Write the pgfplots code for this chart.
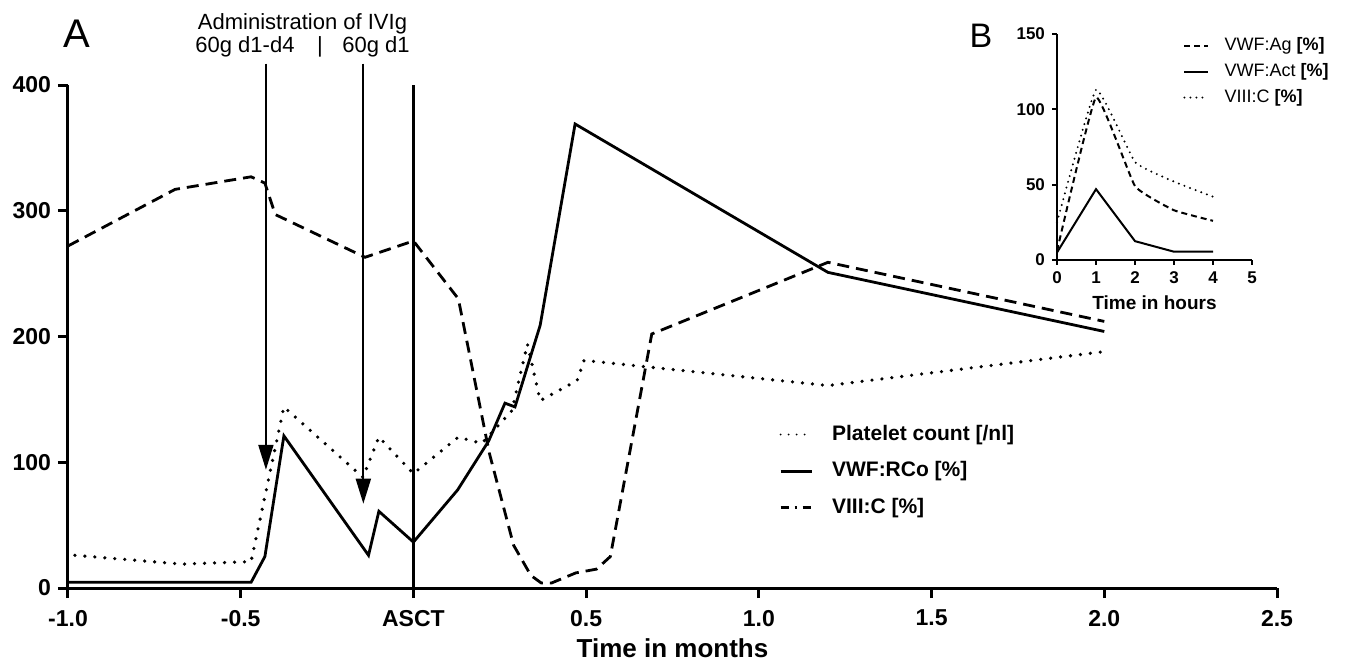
\documentclass[border=0pt]{standalone}
\usepackage{fontspec}
\setmainfont{Liberation Sans}
\usepackage{pgfplots}
\pgfplotsset{compat=1.18}
\usetikzlibrary{arrows.meta}
\begin{document}
\begin{tikzpicture}
\begin{axis}[
  name=main,
  at={(0pt,0pt)}, anchor=south west,
  scale only axis,
  width=604.5pt, height=251.5pt,
  xmin=-1, xmax=2.5, ymin=0, ymax=400,
  axis lines=left,
  axis line style={line width=1.5pt,-},
  xtick={-1,-0.5,0,0.5,1,1.5,2,2.5},
  xticklabels={-1.0,-0.5,ASCT,0.5,1.0,1.5,2.0,2.5},
  ytick={0,100,200,300,400},
  tick style={line width=1.5pt,black},
  tick align=outside,
  major tick length=5pt,
  tick label style={font=\bfseries\fontsize{11.5}{13}\selectfont},
  xticklabel style={yshift=-2.5pt},
  /pgf/number format/assume math mode=true,
  xlabel={Time in months},
  xlabel style={font=\bfseries\fontsize{13}{15}\selectfont, at={(axis description cs:0.5,0)}, anchor=base, yshift=-34.5pt},
  clip=false,
  legend image code/.code={\draw[#1] (0pt,0pt) -- (15.5pt,0pt);},
  legend style={at={(0.588,0.325)}, anchor=north west, draw=none, fill=none,
    font=\bfseries\fontsize{10.5}{12}\selectfont, row sep=8.7pt, inner sep=0pt,
    nodes={inner sep=0pt, text depth=0.2em},
    /tikz/every odd column/.append style={column sep=9.5pt}},
  legend cell align=left,
]
% VWF:Ag (dashed)
\addplot[black, line width=1.4pt, dash pattern=on 6pt off 3.5pt, forget plot] coordinates {
 (-1.0,272) (-0.69,317) (-0.47,327) (-0.43,322) (-0.40,297) (-0.14,263) (0,276)
 (0.13,230) (0.22,107) (0.29,34) (0.34,10) (0.37,4) (0.40,4) (0.47,12) (0.53,15) (0.57,25)
 (0.69,202) (1.2,259) (2.0,212)};
% VWF:RCo (solid)
\addplot[black, line width=1.4pt, forget plot] coordinates {
 (-1.0,4.5) (-0.47,4.5) (-0.43,25) (-0.375,121) (-0.13,26) (-0.10,61) (0,36.5)
 (0.128,78) (0.218,117) (0.265,147) (0.294,144) (0.367,209) (0.468,369) (1.2,251) (2.0,204)};
% Platelet count (dotted)
\addplot[black, line width=1.8pt, line cap=round, dash pattern=on 0pt off 5pt, forget plot] coordinates {
 (-0.98,26) (-0.67,19) (-0.47,21) (-0.375,144) (-0.146,88) (-0.10,120) (0,91)
 (0.13,120) (0.198,115) (0.285,141) (0.33,194) (0.367,149) (0.474,165) (0.494,181)
 (1.2,161) (2.0,188)};
\addlegendimage{black, line width=1pt, line cap=round, dash pattern=on 0pt off 4pt}
\addlegendentry{Platelet count [/nl]}
\addlegendimage{black, line width=1.4pt}
\addlegendentry{VWF:RCo [\%]}
\addlegendimage{black, line width=1.4pt, dash pattern=on 4pt off 3pt on 1pt off 3pt}
\addlegendentry{VIII:C [\%]}
% annotations
\draw[line width=1pt, -{Triangle[width=7.5pt,length=12.5pt]}] (axis cs:-0.427,417) -- (axis cs:-0.427,94);
\draw[line width=1pt, -{Triangle[width=7.5pt,length=12.5pt]}] (axis cs:-0.145,417) -- (axis cs:-0.145,67);
\draw[line width=1.5pt] (axis cs:0,0) -- (axis cs:0,400);
\end{axis}
\node[font=\fontsize{20}{24}\selectfont] at (4.5pt,277pt) {A};
\node[anchor=base, font=\fontsize{11}{13}\selectfont, inner sep=0pt] at (117.25pt,279pt) {Administration of IVIg};
\node[anchor=base, font=\fontsize{11}{13}\selectfont, inner sep=0pt] at (88.5pt,267.5pt) {60g d1-d4};
\node[anchor=base, font=\fontsize{11}{13}\selectfont, inner sep=0pt] at (126pt,267.5pt) {|};
\node[anchor=base, font=\fontsize{11}{13}\selectfont, inner sep=0pt] at (154pt,267.5pt) {60g d1};
\node[font=\fontsize{17}{20}\selectfont] at (456.5pt,276pt) {B};
\begin{axis}[
  name=inset,
  at={(494.5pt,164pt)}, anchor=south west,
  scale only axis,
  width=97.5pt, height=113pt,
  xmin=0, xmax=5, ymin=0, ymax=150,
  axis lines=left,
  axis line style={line width=1pt,-},
  xtick={0,1,2,3,4,5},
  ytick={0,50,100,150},
  tick style={line width=1pt,black},
  tick align=outside,
  major tick length=2.5pt,
  tick label style={font=\bfseries\fontsize{8.5}{10}\selectfont},
  /pgf/number format/assume math mode=true,
  xlabel={Time in hours},
  xlabel style={font=\bfseries\fontsize{9.5}{11}\selectfont, at={(axis description cs:0.5,0)}, anchor=base, yshift=-25pt},
  clip=false,
  legend image code/.code={\draw[#1] (0pt,0pt) -- (12pt,0pt);},
  legend style={at={(0.646,0.985)}, anchor=north west, draw=none, fill=none,
    font=\fontsize{9}{10}\selectfont, row sep=4.3pt, inner sep=0pt,
    nodes={inner sep=0pt, text depth=0.2em},
    /tikz/every odd column/.append style={column sep=7.5pt}},
  legend cell align=left,
]
\addplot[black, line width=1pt, dash pattern=on 3pt off 2pt, smooth, tension=0.2] coordinates {
 (0,6) (1,108) (2,49) (3,33) (4,26)};
\addlegendentry{VWF:Ag \textbf{[\%]}}
\addplot[black, line width=1pt] coordinates {
 (0,5) (1,47) (2,12.5) (3,5.5) (4,5.5)};
\addlegendentry{VWF:Act \textbf{[\%]}}
\addplot[black, line width=1.1pt, line cap=round, dash pattern=on 0pt off 3pt, smooth, tension=0.2] coordinates {
 (0,25) (1,113) (2,65) (3,52) (4,42)};
\addlegendentry{VIII:C \textbf{[\%]}}
\end{axis}
\pgfresetboundingbox
\path[use as bounding box] (-34pt,-38pt) rectangle (638.5pt,294pt);
\end{tikzpicture}
\end{document}
